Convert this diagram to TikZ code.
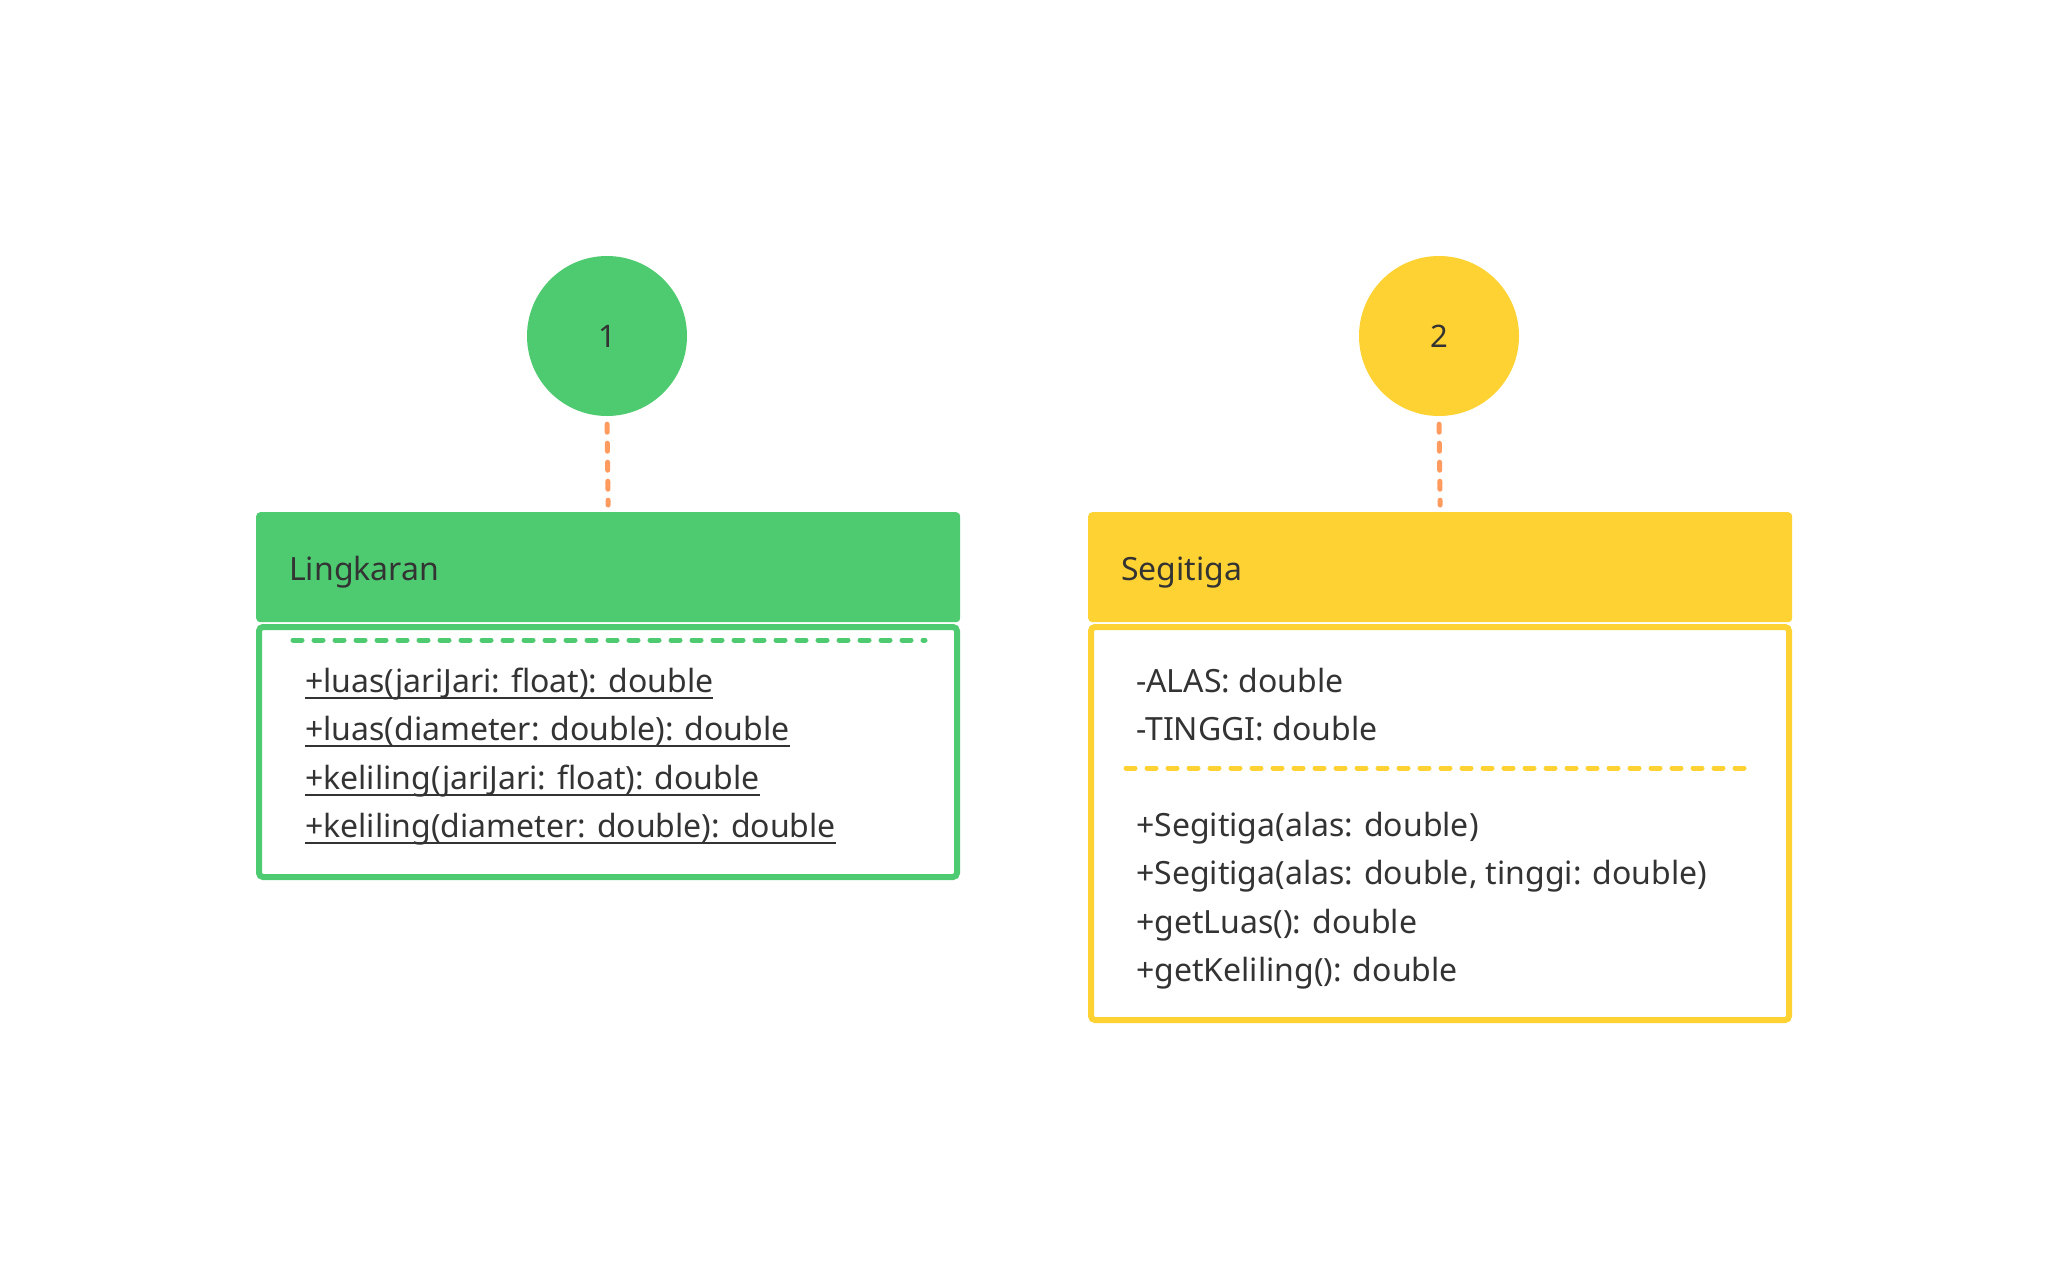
\documentclass[tikz,border=0pt]{standalone}
\usepackage{fontspec}
\setmainfont{Noto Sans}
\definecolor{cgreen}{HTML}{4ECB71}
\definecolor{cyellow}{HTML}{FDD232}
\definecolor{corange}{HTML}{FF9B5E}
\definecolor{ctext}{HTML}{333333}
\newsavebox\ulbox
\newcommand\ulx[1]{\sbox\ulbox{#1}\rlap{\rule[-7pt]{\wd\ulbox}{2.4pt}}\usebox\ulbox}
\begin{document}
\begin{tikzpicture}[x=1pt,y=-1pt,
  txt/.style={anchor=base west, inner sep=0pt, text=ctext, font=\fontsize{32}{38}\selectfont},
  badge/.style={circle, minimum size=160pt, inner sep=0pt, text=ctext, font=\fontsize{31}{36}\selectfont},
  hdr/.style={rounded corners=4pt, anchor=north west, minimum width=704pt, minimum height=110pt, inner sep=0pt},
  bodybox/.style={rounded corners=4pt, line width=6pt, fill=white, anchor=north west, minimum width=698pt, inner sep=0pt},
  conn/.style={draw=corange, line width=5pt, line cap=round, dash pattern=on 8pt off 11pt, shorten <=8pt, shorten >=7pt},
  sep/.style={line width=5pt, line cap=round, dash pattern=on 9pt off 12pt}]
\useasboundingbox[fill=white] (0,0) rectangle (2048,1280);
% badges
\node[badge, fill=cgreen] (c1) at (607,336) {1};
\node[badge, fill=cyellow] (c2) at (1439,336) {2};
% Lingkaran
\node[hdr, fill=cgreen] (h1) at (256,512) {};
\node[bodybox, draw=cgreen, minimum height=250pt] (b1) at (256,624) {};
\node[txt] (n1) at (289,580) {Lingkaran};
\coordinate (g1a) at (293,640);
\coordinate (g1b) at (925,640);
\draw[sep, cgreen] (g1a) -- (g1b);
\node[txt] (m11) at (305,692) {\ulx{+luas(jariJari: float): double}};
\node[txt] (m12) at (305,740) {\ulx{+luas(diameter: double): double}};
\node[txt] (m13) at (305,789) {\ulx{+keliling(jariJari: float): double}};
\node[txt] (m14) at (305,837) {\ulx{+keliling(diameter: double): double}};
% Segitiga
\node[hdr, fill=cyellow] (h2) at (1088,512) {};
\node[bodybox, draw=cyellow, minimum height=393pt] (b2) at (1088,624) {};
\node[txt] (n2) at (1121,580) {Segitiga};
\node[txt] (a21) at (1136,692) {-ALAS: double};
\node[txt] (a22) at (1136,740) {-TINGGI: double};
\coordinate (g2a) at (1126,768);
\coordinate (g2b) at (1755,768);
\draw[sep, cyellow] (g2a) -- (g2b);
\node[txt] (m21) at (1136,836) {+Segitiga(alas: double)};
\node[txt] (m22) at (1136,884) {+Segitiga(alas: double, tinggi: double)};
\node[txt] (m23) at (1136,933) {+getLuas(): double};
\node[txt] (m24) at (1136,981) {+getKeliling(): double};
% connectors
\draw[conn] (c1.south) -- (h1.north);
\draw[conn] (c2.south) -- (h2.north);
\end{tikzpicture}
\end{document}
